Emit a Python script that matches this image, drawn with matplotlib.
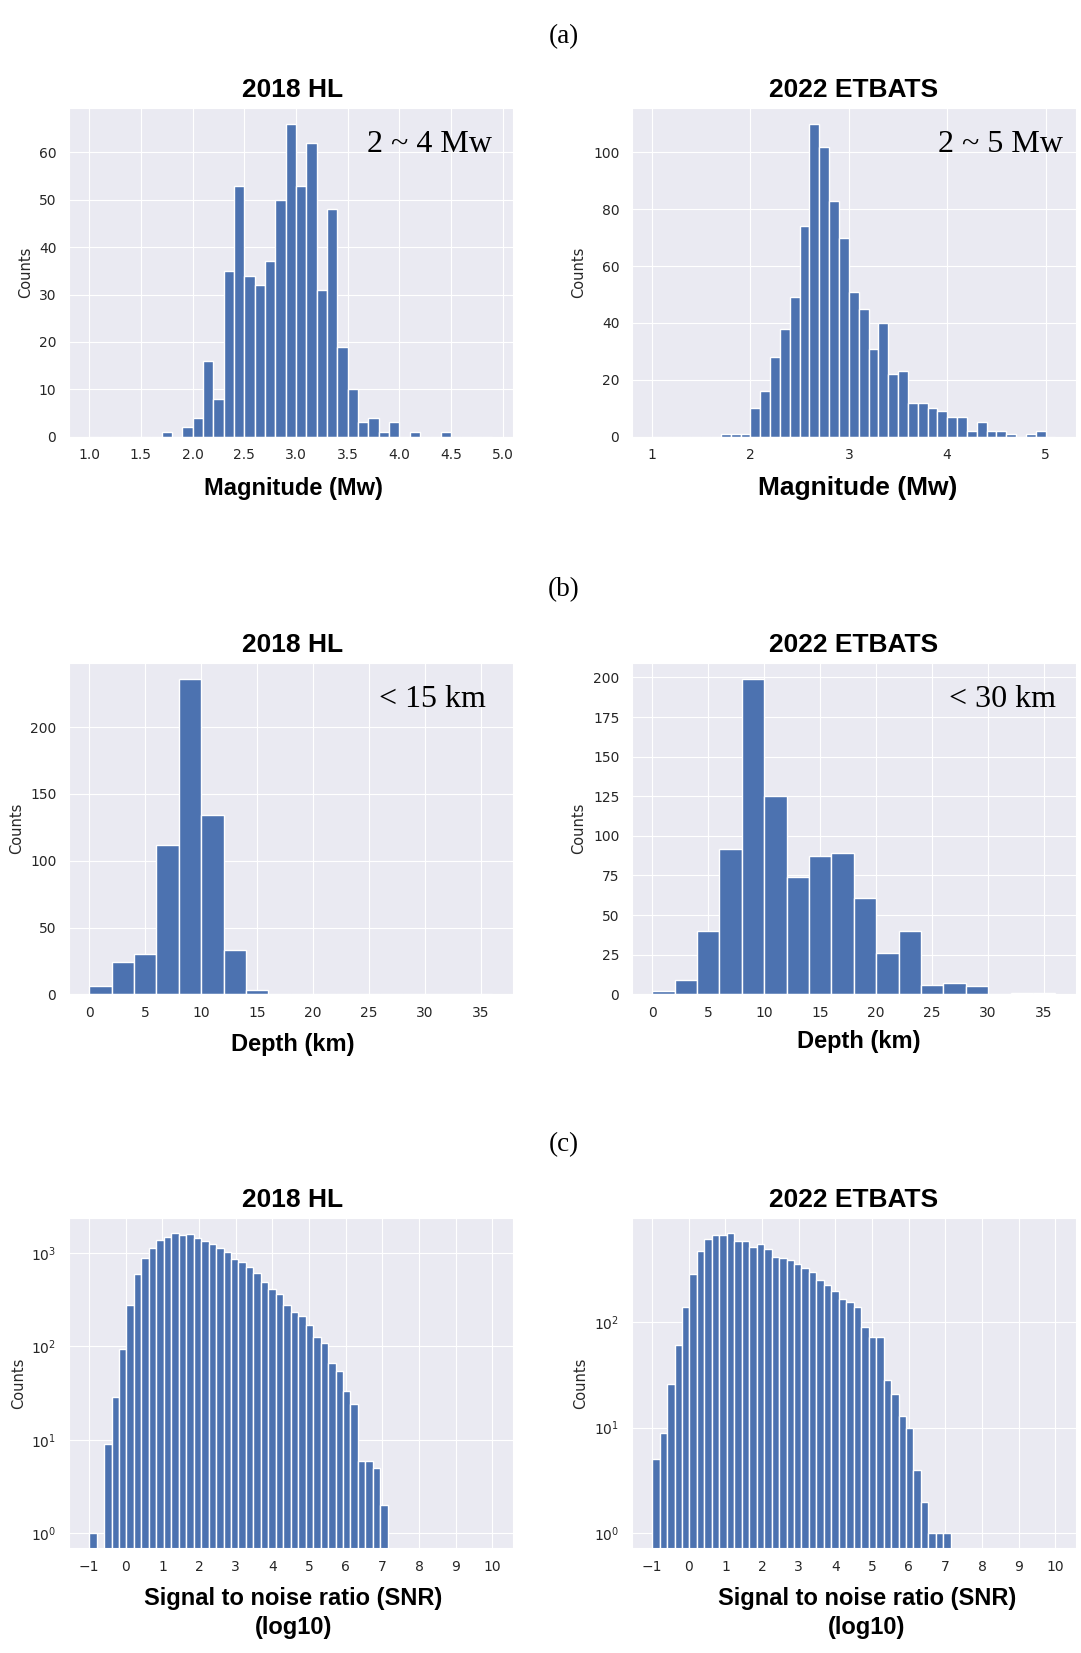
import numpy as np
import matplotlib
matplotlib.use("Agg")
import matplotlib.pyplot as plt
import seaborn as sns
from matplotlib.ticker import MultipleLocator

sns.set_style("darkgrid")
plt.rcParams["font.family"] = ["DejaVu Sans"]

# ---------------- data ----------------
# Magnitude histograms, 0.1 Mw bins
mag_width = 0.1
mag_hl_start = 1.0
mag_hl_counts = [0, 0, 0, 0, 0, 0, 0,
                 1, 0, 2, 4, 16, 8, 35, 53, 34, 32, 37, 50, 66, 53, 62, 31, 48,
                 19, 10, 3, 4, 1, 3, 0, 1, 0, 0, 1, 0, 0, 0, 0]
mag_et_start = 1.0
mag_et_counts = [0, 0, 0, 0, 0, 0, 0,
                 1, 1, 1, 10, 16, 28, 38, 49, 74, 110, 102, 83, 70, 51, 45, 31,
                 40, 22, 23, 12, 12, 10, 9, 7, 7, 2, 5, 2, 2, 1, 0, 1, 2, 0]

# Depth histograms, 2 km bins starting at 0 km
depth_width = 2.0
depth_start = 0.0
depth_hl_counts = [6, 24, 30, 112, 236, 134, 33, 3, 0, 0, 0, 0, 0, 0, 0, 0, 0, 0]
depth_et_counts = [2, 9, 40, 92, 199, 125, 74, 87, 89, 61, 26, 40, 6, 7, 5, 0, 1, 1]

# log10(SNR) histograms, 54 equal bins spanning -1 .. 10
snr_range = (-1.0, 10.0)
snr_hl_counts = [1, 0, 9, 29, 94, 278, 597, 892, 1131, 1376, 1494, 1622, 1544,
                 1582, 1446, 1354, 1248, 1131, 1016, 856, 801, 715, 617, 490,
                 413, 362, 276, 233, 213, 168, 126, 110, 66, 55, 33, 24, 6, 6,
                 5, 2] + [0] * 14
snr_et_counts = [5, 9, 26, 61, 138, 288, 472, 613, 664, 664, 693, 591, 591,
                 515, 546, 497, 417, 408, 388, 351, 324, 299, 253, 224, 195,
                 165, 155, 139, 90, 73, 73, 28, 21, 13, 10, 4, 2, 1, 1, 1] + [0] * 14

mag_ticks_hl = [1.0, 1.5, 2.0, 2.5, 3.0, 3.5, 4.0, 4.5, 5.0]
mag_ticks_et = [1, 2, 3, 4, 5]
depth_ticks = [0, 5, 10, 15, 20, 25, 30, 35]
snr_ticks = [-1, 0, 1, 2, 3, 4, 5, 6, 7, 8, 9, 10]

titles = ["2018 HL", "2022 ETBATS"]
panel_tags = ["(a)", "(b)", "(c)"]

# ---------------- figure ----------------
W, H = 1081, 1653
BAR = "#4C72B0"
fig = plt.figure(figsize=(W / 100, H / 100), dpi=100)
fig.patch.set_facecolor("white")


def fy(y):
    return 1 - y / H


def add_axes(x0, x1, y0, y1):
    return fig.add_axes([x0 / W, 1 - y1 / H, (x1 - x0) / W, (y1 - y0) / H])


def draw_hist(ax, edges, counts, log=False):
    ax.hist(edges[:-1], bins=edges, weights=counts, color=BAR,
            edgecolor="white", linewidth=1.0, log=log)
    if log:
        top = np.log10(max(counts))
        ax.set_ylim(10 ** (-0.05 * top), 10 ** (1.05 * top))
    ax.tick_params(axis="x", labelsize=10, pad=4.8, colors=".15")
    ax.tick_params(axis="y", labelsize=10, pad=5.6, colors=".15")
    ax.set_ylabel("Counts", fontsize=10.5, color=".15")
    ax.yaxis.label.set_verticalalignment("center")


def step_edges(start, width, counts):
    return start + width * np.arange(len(counts) + 1)


def range_edges(lo_hi, counts):
    return np.linspace(lo_hi[0], lo_hi[1], len(counts) + 1)


LX = (69, 512.5)
RX = (632, 1075.5)
ROW_A = (108.3, 436.7)
ROW_B = (663.3, 994.3)
ROW_C = (1218.3, 1548.3)

# (a) magnitude
ax = add_axes(*LX, *ROW_A)
draw_hist(ax, step_edges(mag_hl_start, mag_width, mag_hl_counts), mag_hl_counts)
ax.set_xticks(mag_ticks_hl)
ax.set_xticklabels([f"{t:.1f}" for t in mag_ticks_hl])
ax.yaxis.set_major_locator(MultipleLocator(10))
ax.yaxis.set_label_coords(-0.0974, 0.5)

ax = add_axes(*RX, *ROW_A)
draw_hist(ax, step_edges(mag_et_start, mag_width, mag_et_counts), mag_et_counts)
ax.set_xticks(mag_ticks_et)
ax.yaxis.set_major_locator(MultipleLocator(20))
ax.yaxis.set_label_coords(-0.1204, 0.5)

# (b) depth
ax = add_axes(*LX, *ROW_B)
draw_hist(ax, step_edges(depth_start, depth_width, depth_hl_counts), depth_hl_counts)
ax.set_xticks(depth_ticks)
ax.yaxis.set_major_locator(MultipleLocator(50))
ax.yaxis.set_label_coords(-0.1184, 0.5)

ax = add_axes(*RX, *ROW_B)
draw_hist(ax, step_edges(depth_start, depth_width, depth_et_counts), depth_et_counts)
ax.set_xticks(depth_ticks)
ax.yaxis.set_major_locator(MultipleLocator(25))
ax.yaxis.set_label_coords(-0.1204, 0.5)

# (c) SNR
ax = add_axes(*LX, *ROW_C)
draw_hist(ax, range_edges(snr_range, snr_hl_counts), snr_hl_counts, log=True)
ax.set_xticks(snr_ticks)
ax.yaxis.set_label_coords(-0.113, 0.5)

ax = add_axes(*RX, *ROW_C)
draw_hist(ax, range_edges(snr_range, snr_et_counts), snr_et_counts, log=True)
ax.set_xticks(snr_ticks)
ax.yaxis.set_label_coords(-0.1157, 0.5)

# ---------------- text ----------------
serif = "Liberation Serif"
sans = "Liberation Sans"
INK = "black"

for tag, yc in zip(panel_tags, [37, 589.5, 1145]):
    fig.text(564 / W, fy(yc), tag, family=serif, size=19.5, color=INK,
             ha="center", va="center")

for base in [97, 651.7, 1206.7]:
    fig.text(293 / W, fy(base), titles[0], family=sans, weight="bold",
             size=19, color=INK, ha="center", va="baseline")
    fig.text(854 / W, fy(base), titles[1], family=sans, weight="bold",
             size=19, color=INK, ha="center", va="baseline")

fig.text(293 / W, fy(495), "Magnitude (Mw)", family=sans, weight="bold",
         size=17, color=INK, ha="center", va="baseline")
fig.text(858 / W, fy(495), "Magnitude (Mw)", family=sans, weight="bold",
         size=19, color=INK, ha="center", va="baseline")
fig.text(293 / W, fy(1050.7), "Depth (km)", family=sans, weight="bold",
         size=17, color=INK, ha="center", va="baseline")
fig.text(858.4 / W, fy(1048.3), "Depth (km)", family=sans, weight="bold",
         size=17, color=INK, ha="center", va="baseline")
for xc in [293.5, 867]:
    fig.text(xc / W, fy(1605), "Signal to noise ratio (SNR)", family=sans,
             weight="bold", size=17, color=INK, ha="center", va="baseline")
    fig.text(xc / W, fy(1634), "(log10)", family=sans, weight="bold",
             size=17, color=INK, ha="center", va="baseline")

fig.text(492 / W, fy(151.7), "2 ~ 4 Mw", family=serif, size=23, color=INK,
         ha="right", va="baseline")
fig.text(1062.8 / W, fy(151.7), "2 ~ 5 Mw", family=serif, size=23, color=INK,
         ha="right", va="baseline")
fig.text(485.5 / W, fy(707.3), "< 15 km", family=serif, size=23, color=INK,
         ha="right", va="baseline")
fig.text(1055.9 / W, fy(707.3), "< 30 km", family=serif, size=23, color=INK,
         ha="right", va="baseline")

fig.savefig("out.png", dpi=100)
